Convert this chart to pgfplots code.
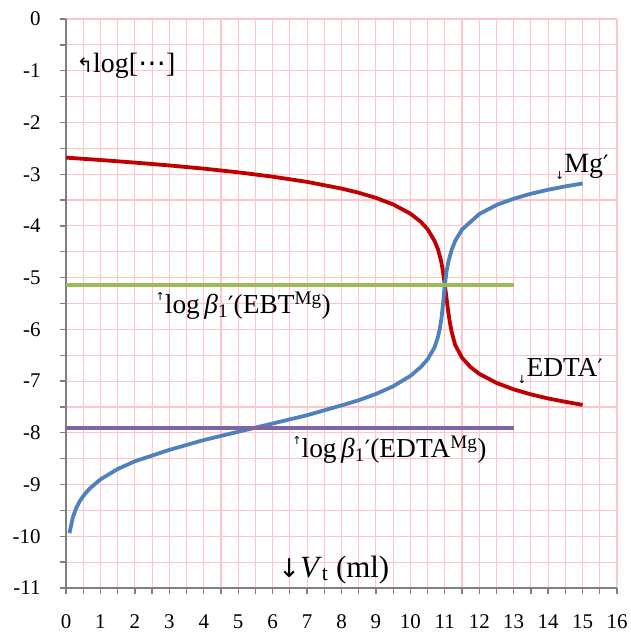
\documentclass[border=0pt]{standalone}
\usepackage{fontspec}
\setmainfont{Liberation Serif}
\newfontfamily\sym{DejaVu Sans}
\usepackage{pgfplots}
\pgfplotsset{compat=1.18}
\definecolor{gridpink}{RGB}{255,196,204}
\definecolor{cred}{RGB}{192,0,0}
\definecolor{cblue}{RGB}{79,129,189}
\definecolor{cgreen}{RGB}{155,187,89}
\definecolor{cpurple}{RGB}{128,100,162}
\definecolor{axgray}{RGB}{128,128,128}
\begin{document}
\begin{tikzpicture}
\begin{axis}[
  scale only axis, width=551bp, height=569bp,
  xmin=0, xmax=16, ymin=-11, ymax=0,
  axis x line*=bottom, axis y line*=left,
  axis line style={draw=axgray, line width=2.4bp, -},
  xtick distance=1, ytick distance=1,
  minor x tick num=1, minor y tick num=1,
  grid=both,
  major grid style={draw=gridpink, line width=1.1bp},
  minor grid style={draw=gridpink, line width=1.1bp},
  tick align=outside, major tick length=6bp, minor tick length=6bp,
  tick style={draw=axgray, line width=1.3bp},
  /pgf/number format/assume math mode=true,
  ticklabel style={font=\fontsize{21}{23}\selectfont, text=black},
  xticklabel style={yshift=-17bp},
  yticklabel style={xshift=-16bp},
  clip=false,
]
\addplot[cred, line width=3.8bp, line join=round] coordinates {
(0,-2.68)(1,-2.726)(2,-2.776)(3,-2.831)(4,-2.893)(5,-2.964)(6,-3.048)(7,-3.149)
(8,-3.278)(8.5,-3.359)(9,-3.458)(9.5,-3.585)(10,-3.763)(10.3,-3.919)(10.5,-4.065)
(10.7,-4.288)(10.8,-4.45)(10.9,-4.70)(10.95,-4.90)(11,-5.14)(11.05,-5.40)(11.1,-5.66)
(11.15,-5.88)(11.2,-6.05)(11.3,-6.30)(11.5,-6.55)(11.75,-6.73)(12,-6.86)(12.5,-7.035)
(13,-7.16)(13.5,-7.257)(14,-7.336)(14.5,-7.40)(15,-7.46)};
\addplot[cblue, line width=3.8bp, line join=round] coordinates {
(0.1,-9.94)(0.2,-9.63)(0.3,-9.45)(0.4,-9.32)(0.55,-9.18)(0.7,-9.07)(1,-8.90)(1.5,-8.70)
(2,-8.55)(3,-8.33)(4,-8.14)(5,-7.98)(6,-7.82)(7,-7.66)(8,-7.47)(8.5,-7.37)(9,-7.25)
(9.5,-7.10)(10,-6.90)(10.3,-6.73)(10.5,-6.58)(10.7,-6.35)(10.8,-6.15)(10.85,-6.0)
(10.9,-5.80)(10.95,-5.50)(11,-5.14)(11.05,-4.88)(11.1,-4.70)(11.2,-4.46)(11.3,-4.29)
(11.5,-4.07)(12,-3.771)(12.5,-3.596)(13,-3.474)(13.5,-3.378)(14,-3.301)(14.5,-3.236)(15,-3.18)};
\addplot[cgreen, line width=3.8bp] coordinates {(0,-5.14)(13,-5.14)};
\addplot[cpurple, line width=3.8bp] coordinates {(0,-7.91)(13,-7.91)};

\node[anchor=base west, inner sep=0, font=\fontsize{28}{30}\selectfont] at (axis cs:0.3,-1.03)
  {{\sym\fontsize{20}{20}\selectfont ↰}log[{\sym\fontsize{28}{28}\selectfont ⋯}]};
\node[anchor=base west, inner sep=0, font=\fontsize{27.5}{30}\selectfont] at (axis cs:2.6,-5.69)
  {\raisebox{0.45em}{\sym\fontsize{11}{11}\selectfont ↑}log\,\textit{β}\textsubscript{1}{\sym\fontsize{24}{24}\selectfont ′}(EBT\textsuperscript{Mg})};
\node[anchor=base west, inner sep=0, font=\fontsize{27.5}{30}\selectfont] at (axis cs:6.57,-8.47)
  {\raisebox{0.45em}{\sym\fontsize{11}{11}\selectfont ↑}log\,\textit{β}\textsubscript{1}{\sym\fontsize{24}{24}\selectfont ′}(EDTA\textsuperscript{Mg})};
\node[anchor=base west, inner sep=0, font=\fontsize{31}{33}\selectfont] at (axis cs:6.16,-10.79)
  {{\sym\fontsize{26}{26}\selectfont ↓}\textit{V}\textsubscript{t} (ml)};
\node[anchor=base west, inner sep=0, font=\fontsize{28}{30}\selectfont] at (axis cs:14.2,-2.96)
  {\raisebox{-0.25em}{\sym\fontsize{11}{11}\selectfont ↓}Mg{\sym\fontsize{24}{24}\selectfont ′}};
\node[anchor=base west, inner sep=0, font=\fontsize{27.5}{30}\selectfont] at (axis cs:13.1,-6.92)
  {\raisebox{-0.25em}{\sym\fontsize{11}{11}\selectfont ↓}EDTA{\sym\fontsize{24}{24}\selectfont ′}};
\end{axis}
\path ([xshift=-66bp,yshift=-47bp]current axis.south west) rectangle ([xshift=12bp,yshift=19bp]current axis.north east);
\end{tikzpicture}
\end{document}
